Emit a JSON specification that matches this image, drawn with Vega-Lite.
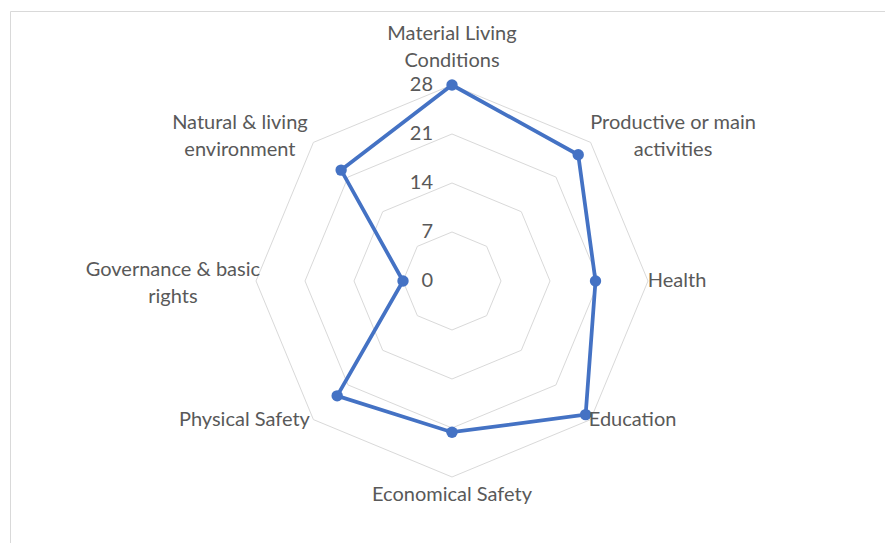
{
  "$schema": "https://vega.github.io/schema/vega-lite/v6.json",
  "width": 875,
  "height": 532,
  "autosize": {"type": "none"},
  "padding": {"left": 10, "top": 11, "right": 0, "bottom": 0},
  "background": "white",
  "config": {
    "view": {"stroke": "#D9D9D9", "strokeWidth": 1},
    "text": {"font": "Lato", "fontSize": 20, "color": "#595959"}
  },
  "datasets": {
    "scores": [
      {"category": "Material Living\nConditions", "value": 28},
      {"category": "Productive or main\nactivities", "value": 25.5},
      {"category": "Health", "value": 20.5},
      {"category": "Education", "value": 27},
      {"category": "Economical Safety", "value": 21.6},
      {"category": "Physical Safety", "value": 23.2},
      {"category": "Governance & basic\nrights", "value": 7},
      {"category": "Natural & living\nenvironment", "value": 22.4}
    ],
    "grid": [
      {"level": 7, "spoke": 0}, {"level": 7, "spoke": 1}, {"level": 7, "spoke": 2}, {"level": 7, "spoke": 3},
      {"level": 7, "spoke": 4}, {"level": 7, "spoke": 5}, {"level": 7, "spoke": 6}, {"level": 7, "spoke": 7},
      {"level": 14, "spoke": 0}, {"level": 14, "spoke": 1}, {"level": 14, "spoke": 2}, {"level": 14, "spoke": 3},
      {"level": 14, "spoke": 4}, {"level": 14, "spoke": 5}, {"level": 14, "spoke": 6}, {"level": 14, "spoke": 7},
      {"level": 21, "spoke": 0}, {"level": 21, "spoke": 1}, {"level": 21, "spoke": 2}, {"level": 21, "spoke": 3},
      {"level": 21, "spoke": 4}, {"level": 21, "spoke": 5}, {"level": 21, "spoke": 6}, {"level": 21, "spoke": 7},
      {"level": 28, "spoke": 0}, {"level": 28, "spoke": 1}, {"level": 28, "spoke": 2}, {"level": 28, "spoke": 3},
      {"level": 28, "spoke": 4}, {"level": 28, "spoke": 5}, {"level": 28, "spoke": 6}, {"level": 28, "spoke": 7}
    ],
    "ticks": [{"tick": 0}, {"tick": 7}, {"tick": 14}, {"tick": 21}, {"tick": 28}]
  },
  "layer": [
    {
      "data": {"name": "grid"},
      "transform": [
        {"calculate": "datum.spoke * PI / 4", "as": "ang"},
        {"calculate": "datum.level * sin(datum.ang)", "as": "gx"},
        {"calculate": "datum.level * cos(datum.ang)", "as": "gy"}
      ],
      "mark": {"type": "line", "interpolate": "linear-closed", "stroke": "#D9D9D9", "strokeWidth": 1},
      "encoding": {
        "x": {"field": "gx", "type": "quantitative", "scale": {"domain": [-63.143, 61.857], "nice": false, "zero": false}, "axis": null},
        "y": {"field": "gy", "type": "quantitative", "scale": {"domain": [-37.429, 38.571], "nice": false, "zero": false}, "axis": null},
        "detail": {"field": "level", "type": "nominal"},
        "order": {"field": "spoke", "type": "quantitative"}
      }
    },
    {
      "data": {"name": "ticks"},
      "mark": {"type": "text", "align": "right", "baseline": "middle", "dx": -19},
      "encoding": {
        "x": {"datum": 0, "type": "quantitative", "scale": {"domain": [-63.143, 61.857], "nice": false, "zero": false}, "axis": null},
        "y": {"field": "tick", "type": "quantitative", "scale": {"domain": [-37.429, 38.571], "nice": false, "zero": false}, "axis": null},
        "text": {"field": "tick", "type": "quantitative"}
      }
    },
    {
      "data": {"name": "scores"},
      "transform": [
        {"window": [{"op": "row_number", "as": "idx"}]},
        {"calculate": "(datum.idx - 1) * PI / 4", "as": "ang"},
        {"calculate": "datum.value * sin(datum.ang)", "as": "px"},
        {"calculate": "datum.value * cos(datum.ang)", "as": "py"}
      ],
      "mark": {"type": "line", "interpolate": "linear-closed", "stroke": "#4472C4", "strokeWidth": 3.75},
      "encoding": {
        "x": {"field": "px", "type": "quantitative", "scale": {"domain": [-63.143, 61.857], "nice": false, "zero": false}, "axis": null},
        "y": {"field": "py", "type": "quantitative", "scale": {"domain": [-37.429, 38.571], "nice": false, "zero": false}, "axis": null},
        "order": {"field": "idx", "type": "quantitative"}
      }
    },
    {
      "data": {"name": "scores"},
      "transform": [
        {"window": [{"op": "row_number", "as": "idx"}]},
        {"calculate": "(datum.idx - 1) * PI / 4", "as": "ang"},
        {"calculate": "datum.value * sin(datum.ang)", "as": "px"},
        {"calculate": "datum.value * cos(datum.ang)", "as": "py"}
      ],
      "mark": {"type": "point", "filled": true, "opacity": 1, "size": 130, "color": "#4472C4"},
      "encoding": {
        "x": {"field": "px", "type": "quantitative", "scale": {"domain": [-63.143, 61.857], "nice": false, "zero": false}, "axis": null},
        "y": {"field": "py", "type": "quantitative", "scale": {"domain": [-37.429, 38.571], "nice": false, "zero": false}, "axis": null}
      }
    },
    {
      "data": {"name": "scores"},
      "transform": [
        {"window": [{"op": "row_number", "as": "idx"}]},
        {"calculate": "(datum.idx - 1) * PI / 4", "as": "ang"},
        {"calculate": "sin(datum.ang)", "as": "s"},
        {"calculate": "cos(datum.ang)", "as": "c"},
        {"calculate": "split(datum.category, '\\n')", "as": "lines"},
        {"calculate": "length(datum.lines)", "as": "nl"},
        {"calculate": "max(length(datum.lines[0]), datum.nl > 1 ? length(datum.lines[1]) : 0)", "as": "ml"},
        {"calculate": "abs(datum.s) > 0.1 ? 28.3 * datum.s + (datum.s > 0 ? 1 : -1) * datum.ml * 4.5 / 7 : 0", "as": "lx"},
        {"calculate": "(abs(datum.c) > 0.9 ? (datum.c > 0 ? 29.5 : -28.8) + (datum.c > 0 ? 1 : -1) * datum.nl * 12.5 / 7 : 28.1 * datum.c + (datum.c > 0 ? 1 : -1) * (datum.nl - 1) * 0.6) + (datum.nl - 1) * 15 / 7", "as": "ly"}
      ],
      "mark": {"type": "text", "align": "center", "baseline": "middle", "lineBreak": "\n", "lineHeight": 27},
      "encoding": {
        "x": {"field": "lx", "type": "quantitative", "scale": {"domain": [-63.143, 61.857], "nice": false, "zero": false}, "axis": null},
        "y": {"field": "ly", "type": "quantitative", "scale": {"domain": [-37.429, 38.571], "nice": false, "zero": false}, "axis": null},
        "text": {"field": "category", "type": "nominal"}
      }
    }
  ]
}
